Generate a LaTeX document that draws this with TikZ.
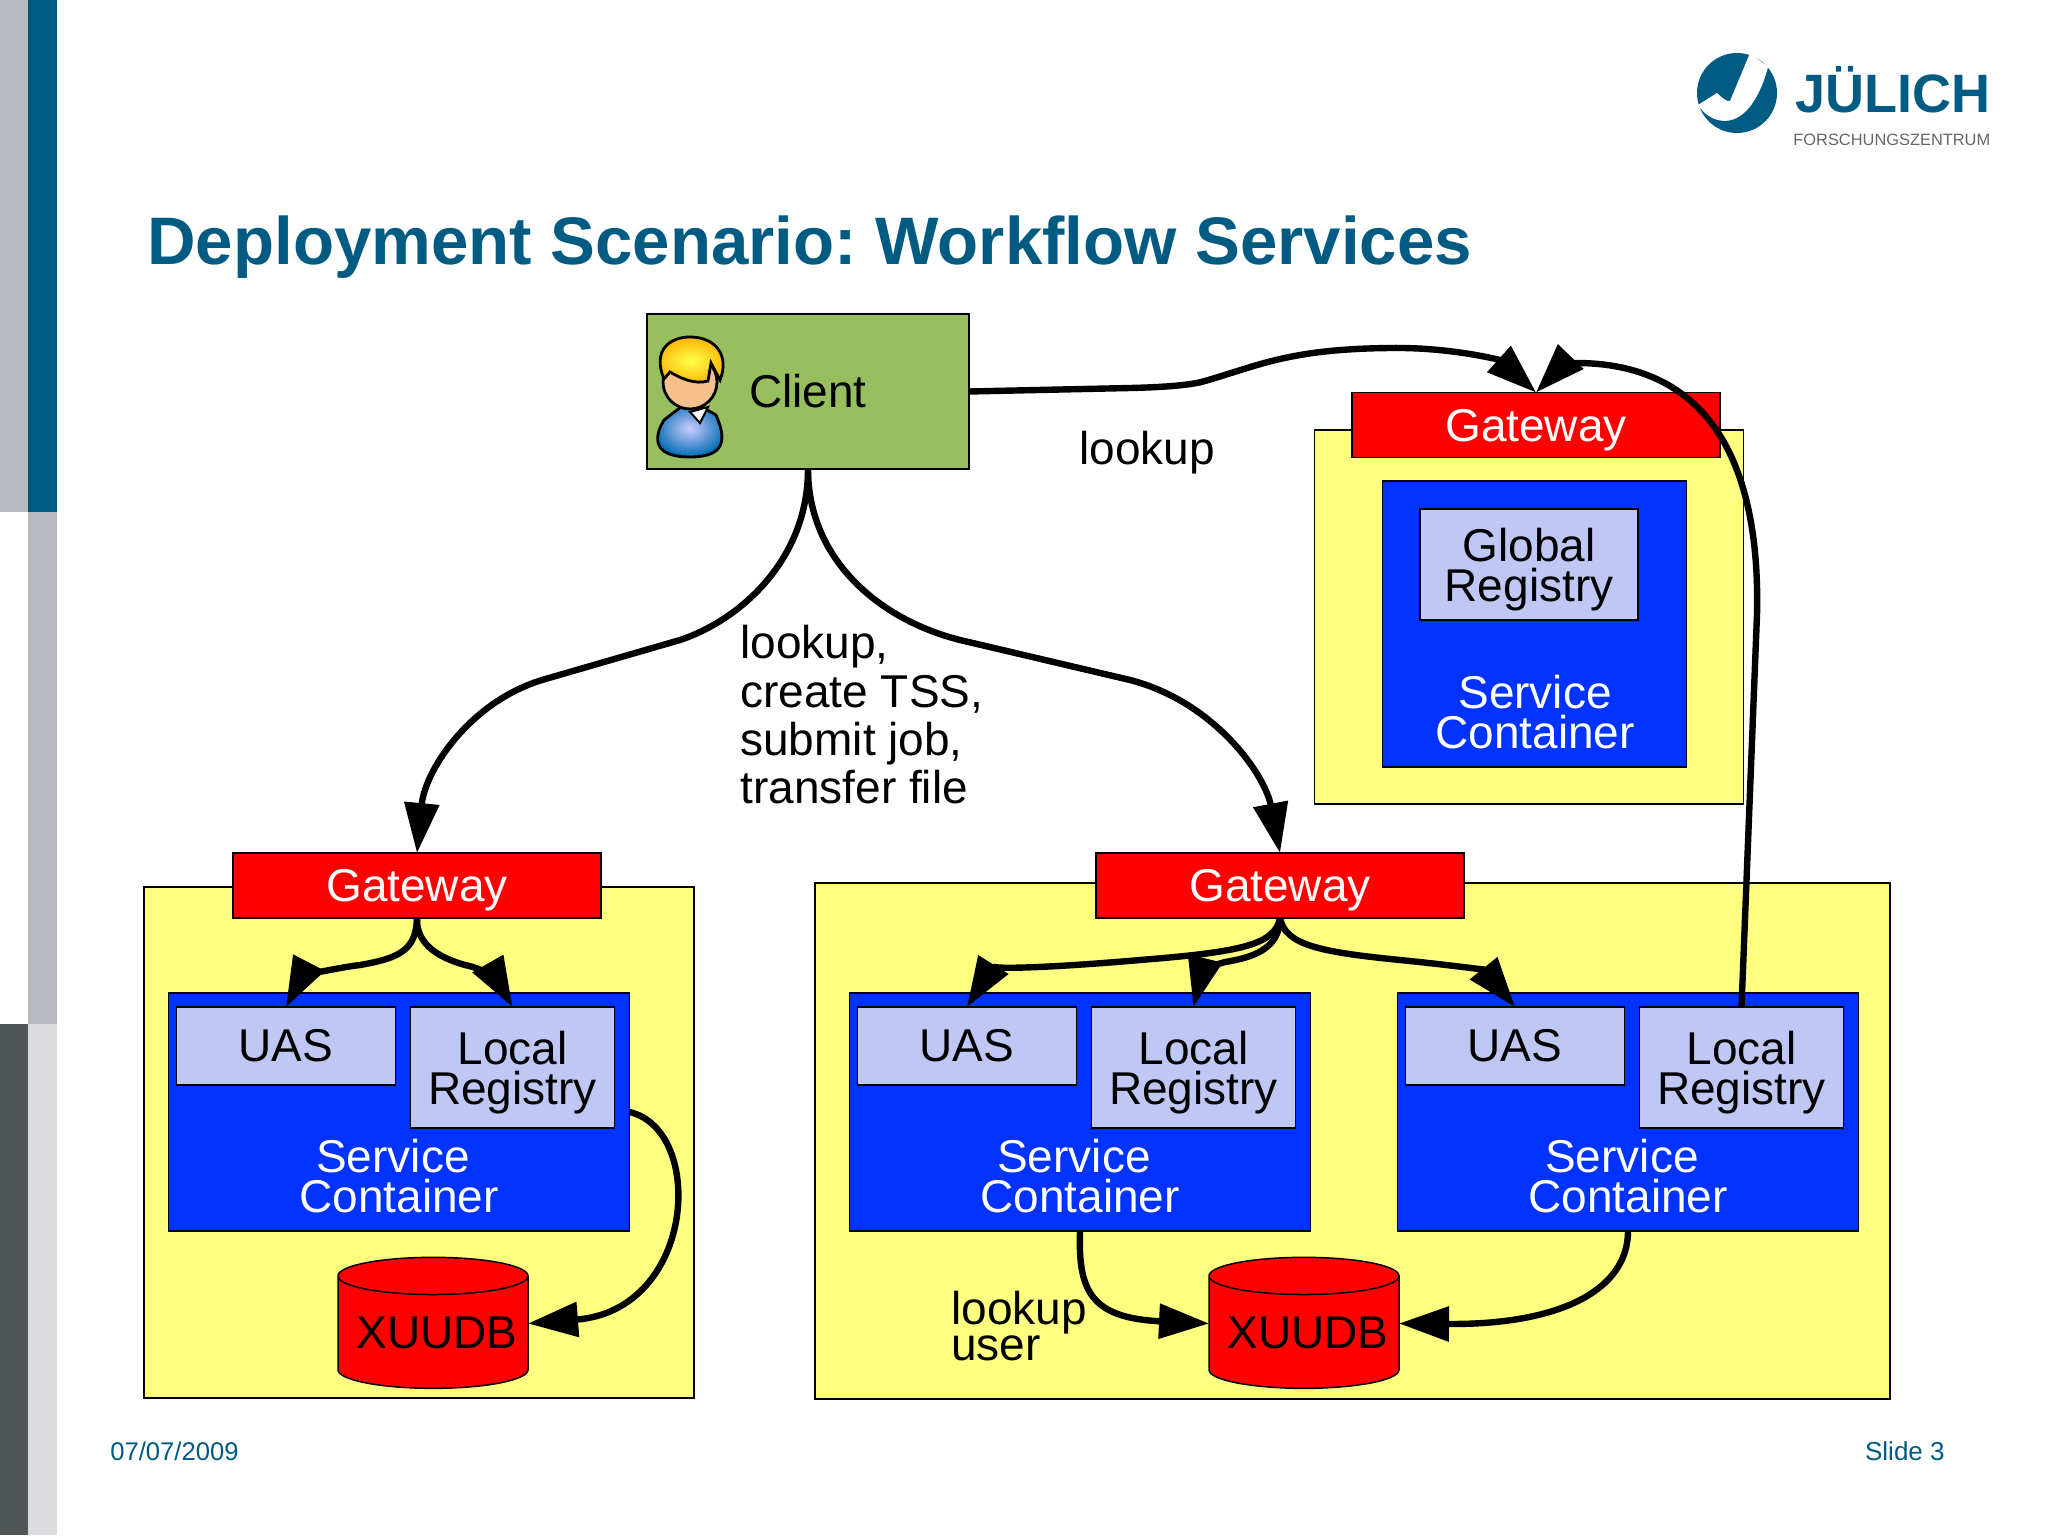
\documentclass[tikz,border=0pt]{standalone}
\usepackage{fontspec}
\setmainfont{Liberation Sans}
\usetikzlibrary{arrows.meta,shapes.geometric}
\definecolor{juelich}{HTML}{005B82}
\definecolor{barGrey}{HTML}{B9B9C1}
\definecolor{barDark}{HTML}{505555}
\definecolor{barLight}{HTML}{DCDCE0}
\definecolor{boxYellow}{HTML}{FFFF80}
\definecolor{boxBlue}{HTML}{0033FF}
\definecolor{boxLight}{HTML}{BFC7F5}
\definecolor{boxGreen}{HTML}{97BE5F}
\tikzset{
	bigfont/.style={font=\fontsize{23}{20}\selectfont},
	boxline/.style={draw=black,line width=0.75pt,inner sep=0pt,outer sep=0pt},
	clientbox/.style={boxline,bigfont,fill=boxGreen,minimum width=161pt,minimum height=77.5pt},
	gatewaybox/.style={boxline,bigfont,fill=red,text=white,text depth=0pt,minimum width=184pt,minimum height=32.5pt},
	servicebox/.style={boxline,fill=boxBlue,minimum width=230.5pt,minimum height=119pt},
	servicetext/.style={bigfont,text=white,align=left,inner sep=0pt},
	uasbox/.style={boxline,bigfont,fill=boxLight,minimum width=109.5pt,minimum height=39pt},
	regbox/.style={boxline,bigfont,fill=boxLight,align=center,text depth=0pt,minimum width=102pt,minimum height=60.5pt},
	dbbox/.style={boxline,bigfont,fill=red,shape=cylinder,shape border rotate=90,shape aspect=0.22,minimum width=95pt,minimum height=65.5pt},
	plaintext/.style={bigfont,inner sep=0pt,align=left},
	conn/.style={line width=3.2pt,-{Triangle[length=25pt,width=17pt]}},
}
\begin{document}
\frenchspacing
\begin{tikzpicture}[x=0.5pt,y=-0.5pt]
	\useasboundingbox (0,0) rectangle (2048,1535);
	% Balken links
	\fill [barGrey] (0,0) rectangle (28,512);
	\fill [juelich] (28,0) rectangle (57,512);
	\fill [barGrey] (28,512) rectangle (57,1024);
	\fill [barDark] (0,1024) rectangle (28,1535);
	\fill [barLight] (28,1024) rectangle (57,1535);
	% Logo
	\fill [juelich] (1737,93) circle [radius=40];
	\fill [white] (1750,53) -- (1768,67) .. controls (1762,90) and (1752,108) .. (1740,116) .. controls (1725,126) and (1708,120) .. (1698,105) -- (1717,93) .. controls (1722,98) and (1727,102) .. (1730,101) -- cycle;
	\node [text=juelich,inner sep=0pt,anchor=base west,font=\fontsize{27}{27}\selectfont\bfseries] (logoName) at (1795,113) {JÜLICH};
	\node [text=black!60,inner sep=0pt,anchor=base west,font=\fontsize{8.2}{8}\selectfont] (logoSub) at (1793,146) {FORSCHUNGSZENTRUM};
	% Titel und Fusszeile
	\node [text=juelich,inner sep=0pt,anchor=west,font=\fontsize{33.6}{34}\selectfont\bfseries] (title) at (147,247) {Deployment Scenario: Workflow Services};
	\node [text=juelich,inner sep=0pt,anchor=west,font=\fontsize{12.8}{13}\selectfont] (date) at (110,1451) {07/07/2009};
	\node [text=juelich,inner sep=0pt,anchor=east,font=\fontsize{13}{13}\selectfont] (slide) at (1945,1451) {Slide 3};
	% gelbe Kaesten
	\node [boxline,fill=boxYellow,minimum width=275pt,minimum height=255.5pt] (siteL) at (419,1142.5) {};
	\node [boxline,fill=boxYellow,minimum width=537.5pt,minimum height=258pt] (siteM) at (1352.5,1141) {};
	\node [boxline,fill=boxYellow,minimum width=214.5pt,minimum height=187pt] (siteT) at (1529,617) {};
	% Client
	\node [clientbox] (client) at (808,391.5) {Client};
	% Figur im Client
	\shade [inner color=blue!20!white,outer color=blue!40!cyan!70!black,draw=black,line width=1.4pt] (664,420) .. controls (652,440) and (655,457) .. (690,457) .. controls (725,457) and (727,440) .. (716,415) -- (690,400) -- cycle;
	\fill [white,draw=black,line width=1pt] (690,412) -- (708,407) -- (700,423) -- cycle;
	\fill [orange!40!white!85!brown,draw=black,line width=1.4pt] (690,382) circle [radius=27];
	\shade [inner color=yellow!70!white,outer color=orange!60!yellow,draw=black,line width=1.4pt] (664,379) .. controls (652,350) and (670,337) .. (690,337) .. controls (715,337) and (730,355) .. (720,380) -- (711,363) -- (708,381) .. controls (695,385) and (680,378) .. (670,372) -- cycle;
	% Gateways
	\node [gatewaybox] (gwL) at (417,885.5) {Gateway};
	\node [gatewaybox] (gwM) at (1280,885.5) {Gateway};
	\node [gatewaybox] (gwT) at (1536,425) {Gateway};
	% Service Container
	\foreach \n/\x in {L/0,M/681,R/1229} {
		\node [servicebox] (sc\n) at (399+\x,1112) {};
		\node [uasbox] (uas\n) at (286+\x,1046) {UAS};
		\node [regbox] (reg\n) at (512.5+\x,1067.5) {Local\\Registry};
		\node [servicetext] (sct\n) at (399+\x,1176) {\hspace*{8.5pt}Service\\Container};
	}
	% oben rechts
	\node [boxline,fill=boxBlue,minimum width=152pt,minimum height=143pt] (scT) at (1534.5,624) {};
	\node [regbox,minimum width=109pt,minimum height=55.5pt] (regT) at (1529,564.5) {Global\\Registry};
	\node [servicetext,align=center] (sctT) at (1535,712) {Service\\Container};
	% Datenbanken
	\node [dbbox] (dbL) at (433,1332.5) {\hspace*{4pt}XUUDB};
	\node [dbbox] (dbM) at (1304,1332.5) {\hspace*{4pt}XUUDB};
	% Beschriftung
	\node [plaintext,anchor=west] (lookT) at (1079,453) {lookup};
	\node [plaintext,anchor=north west,font=\fontsize{23}{24.2}\selectfont] (calls) at (740,625) {lookup,\\create TSS,\\submit job,\\transfer file};
	\node [plaintext,anchor=west,font=\fontsize{23}{15}\selectfont] (lookU) at (951,1326) {lookup\\user};
	% Verbindungen
	\draw [conn] (client.east) -- (1130,388) .. controls (1175,387) and (1195,384) .. (1205,381) .. controls (1260,365) and (1290,349) .. (1390,348) .. controls (1450,347) and (1500,360) .. (gwT.north);
	\draw [conn] (regR.north) -- (1757,614) .. controls (1760,480) and (1720,362) .. (1574,363) .. controls (1560,363) and (1550,378) .. (gwT.north);
	\draw [conn] (client.south) .. controls (808,560) and (740,620) .. (680,640) -- (542,680) .. controls (470,702) and (425,770) .. (gwL.north);
	\draw [conn] (client.south) .. controls (808,560) and (880,620) .. (960,640) -- (1130,680) .. controls (1215,702) and (1265,775) .. (gwM.north);
	\draw [conn] (gwL.south) .. controls (416,950) and (400,958) .. (360,965) .. controls (320,970) and (300,980) .. (uasL.north);
	\draw [conn] (gwL.south) .. controls (416,945) and (440,958) .. (465,965) .. controls (490,970) and (500,985) .. (regL.north);
	\draw [conn] (gwM.south) .. controls (1275,945) and (1240,952) .. (1140,960) .. controls (1060,967) and (990,970) .. (uasM.north);
	\draw [conn] (gwM.south) .. controls (1280,950) and (1250,958) .. (1225,962) .. controls (1210,965) and (1200,980) .. (regM.north);
	\draw [conn] (gwM.south) .. controls (1285,945) and (1320,952) .. (1400,960) .. controls (1450,965) and (1485,970) .. (uasR.north);
	\draw [conn] (scL.east) .. controls (706,1130) and (696,1310) .. ([yshift=4.5pt]dbL.east);
	\draw [conn] (scM.south) .. controls (1078,1290) and (1090,1318) .. ([yshift=4.5pt]dbM.west);
	\draw [conn] (scR.south) .. controls (1628,1290) and (1560,1325) .. ([yshift=4.5pt]dbM.east);
\end{tikzpicture}
\end{document}
